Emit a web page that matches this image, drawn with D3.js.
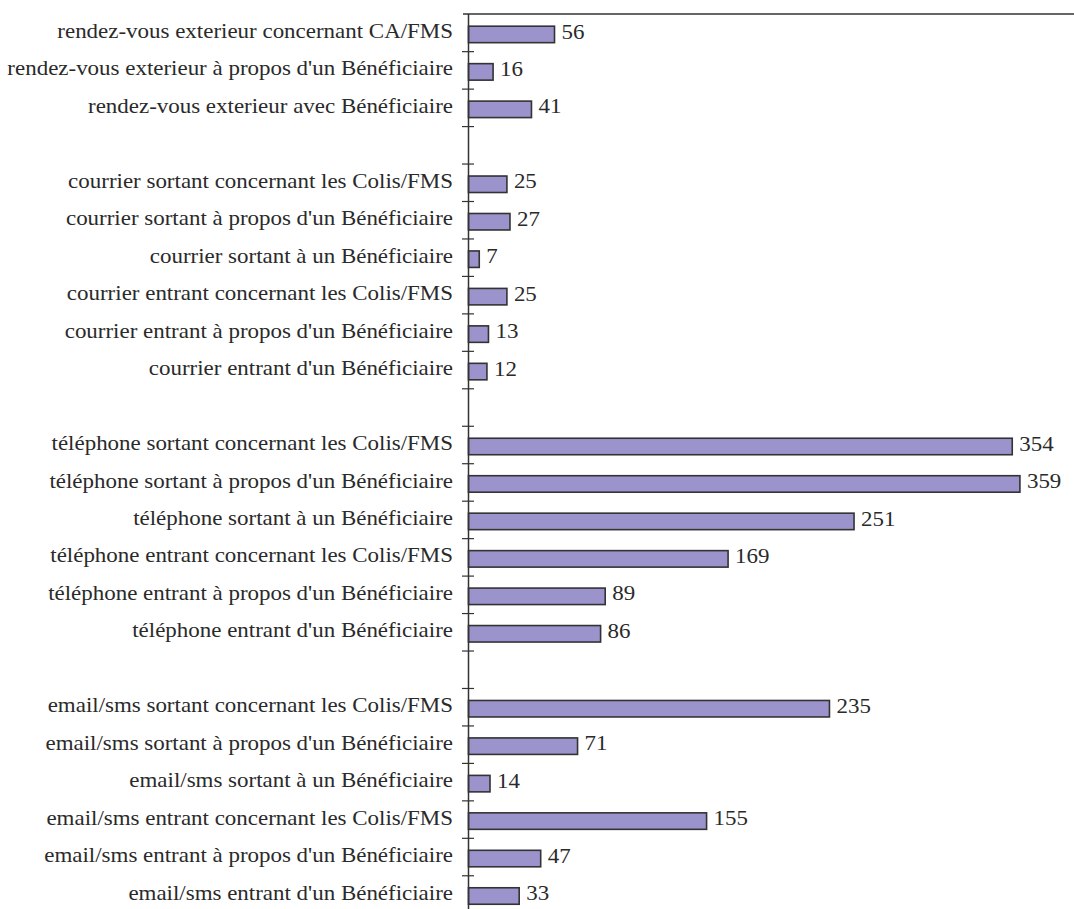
<!DOCTYPE html>
<html><head><meta charset="utf-8">
<script src="https://cdn.jsdelivr.net/npm/d3@7"></script>
<style>body{margin:0;background:#fff;} svg{display:block;} text{font-family:"Liberation Serif","Times New Roman",serif;}</style>
</head><body>
<svg id="chart" width="1074" height="909"></svg>
<script>
const categories = [
  "rendez-vous exterieur concernant CA/FMS",
  "rendez-vous exterieur à propos d'un Bénéficiaire",
  "rendez-vous exterieur avec Bénéficiaire",
  "",
  "courrier sortant concernant les Colis/FMS",
  "courrier sortant à propos d'un Bénéficiaire",
  "courrier sortant à un Bénéficiaire",
  "courrier entrant concernant les Colis/FMS",
  "courrier entrant à propos d'un Bénéficiaire",
  "courrier entrant d'un Bénéficiaire",
  "",
  "téléphone sortant concernant les Colis/FMS",
  "téléphone sortant à propos d'un Bénéficiaire",
  "téléphone sortant à un Bénéficiaire",
  "téléphone entrant concernant les Colis/FMS",
  "téléphone entrant à propos d'un Bénéficiaire",
  "téléphone entrant d'un Bénéficiaire",
  "",
  "email/sms sortant concernant les Colis/FMS",
  "email/sms sortant à propos d'un Bénéficiaire",
  "email/sms sortant à un Bénéficiaire",
  "email/sms entrant concernant les Colis/FMS",
  "email/sms entrant à propos d'un Bénéficiaire",
  "email/sms entrant d'un Bénéficiaire"
];
const values = [56, 16, 41, null, 25, 27, 7, 25, 13, 12, null, 354, 359, 251, 169, 89, 86, null, 235, 71, 14, 155, 47, 33];

const svg = d3.select("#chart");
const x0 = 468.5, plotTop = 14.2, slotH = 37.46;
const plotBottom = plotTop + slotH * categories.length;
const xMaxVal = 395;
const x = d3.scaleLinear().domain([0, xMaxVal]).range([x0, x0 + 1.536 * xMaxVal]);
const idx = d3.range(categories.length);
const y = d3.scaleBand().domain(idx).range([plotTop + 1.5, plotBottom + 1.5]).paddingInner(0.56).paddingOuter(0.28);

const fs = 20.5, sx = 1.12, baseOff = 3.6;

svg.append("line").attr("x1", 463).attr("x2", 1074).attr("y1", 14).attr("y2", 14)
  .attr("stroke", "#333").attr("stroke-width", 1.5);

const rows = idx.filter(i => values[i] !== null);
svg.selectAll("rect.bar").data(rows).join("rect")
  .attr("class", "bar")
  .attr("x", x(0))
  .attr("y", i => y(i))
  .attr("width", i => x(values[i]) - x(0))
  .attr("height", y.bandwidth())
  .attr("fill", "#9b93cb").attr("stroke", "#333").attr("stroke-width", 1.6);

svg.selectAll("text.val").data(rows).join("text")
  .attr("class", "val")
  .attr("transform", i => `translate(${x(values[i]) + 7},${y(i) + y.bandwidth() / 2 + baseOff + 0.5}) scale(${sx},1)`)
  .attr("font-size", fs).attr("fill", "#2a2a2a")
  .text(i => values[i]);

svg.selectAll("text.cat").data(rows).join("text")
  .attr("class", "cat")
  .attr("transform", i => `translate(453,${y(i) + y.bandwidth() / 2 + baseOff}) scale(${sx},1)`)
  .attr("text-anchor", "end")
  .attr("font-size", fs).attr("fill", "#2a2a2a")
  .text(i => categories[i]);

svg.append("line").attr("x1", x0).attr("x2", x0).attr("y1", 14).attr("y2", plotBottom)
  .attr("stroke", "#333").attr("stroke-width", 1.5);

const bounds = d3.range(1, categories.length).map(i => plotTop + slotH * i);
svg.selectAll("line.tick").data(bounds).join("line")
  .attr("class", "tick")
  .attr("x1", 462).attr("x2", 474)
  .attr("y1", d => d).attr("y2", d => d)
  .attr("stroke", "#333").attr("stroke-width", 1.2);
</script>
</body></html>
